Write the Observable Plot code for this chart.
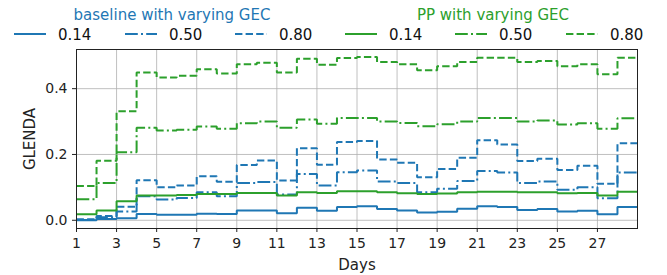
<!DOCTYPE html>
<html><head><meta charset="utf-8">
<script src="https://cdn.jsdelivr.net/npm/d3@7"></script>
<script src="https://cdn.jsdelivr.net/npm/@observablehq/plot@0.6"></script>
<style>
body{margin:0;background:#fff;font-family:"DejaVu Sans",sans-serif;}
#legend{display:block;width:667px;height:45px;}
#chart svg{display:block;}
</style></head><body>
<svg id="legend" width="667" height="45"></svg>
<div id="chart"></div>
<script>
const days = d3.range(1, 29);
const xTicks = d3.range(1, 28, 2);
const yTicks = [0, 0.2, 0.4];
const groupTitles = ["baseline with varying GEC", "PP with varying GEC"];
const gecLabels = ["0.14", "0.50", "0.80"];

const baseline014 = [0.000,0.004,0.006,0.019,0.017,0.017,0.020,0.019,0.030,0.030,0.021,0.038,0.029,0.040,0.043,0.034,0.030,0.024,0.026,0.035,0.043,0.040,0.031,0.034,0.027,0.029,0.018,0.040];
const baseline050 = [0.001,0.009,0.027,0.073,0.063,0.068,0.085,0.073,0.113,0.116,0.078,0.141,0.106,0.146,0.151,0.118,0.113,0.085,0.096,0.119,0.150,0.145,0.113,0.118,0.093,0.100,0.067,0.145];
const baseline080 = [0.003,0.013,0.041,0.122,0.100,0.106,0.134,0.117,0.168,0.182,0.121,0.219,0.169,0.238,0.241,0.185,0.175,0.131,0.156,0.190,0.243,0.230,0.180,0.187,0.153,0.166,0.111,0.234];
const pp014 = [0.018,0.030,0.058,0.075,0.075,0.077,0.080,0.080,0.083,0.083,0.075,0.085,0.083,0.088,0.088,0.085,0.082,0.080,0.081,0.085,0.087,0.087,0.085,0.085,0.082,0.083,0.075,0.087];
const pp050 = [0.064,0.113,0.207,0.281,0.273,0.275,0.285,0.278,0.295,0.300,0.281,0.306,0.293,0.311,0.311,0.300,0.296,0.286,0.292,0.300,0.311,0.311,0.300,0.303,0.291,0.295,0.278,0.310];
const pp080 = [0.104,0.181,0.331,0.449,0.434,0.439,0.459,0.446,0.474,0.479,0.449,0.491,0.473,0.493,0.496,0.481,0.474,0.456,0.468,0.481,0.494,0.494,0.481,0.484,0.468,0.474,0.444,0.494];

const BLUE = "#1f77b4", GREEN = "#2ca02c";
const DASHES = ["none", "12.8,3.2,2,3.2", "7.4,3.2"];
const series = [
  {values: baseline014, color: BLUE, dash: DASHES[0]},
  {values: baseline050, color: BLUE, dash: DASHES[1]},
  {values: baseline080, color: BLUE, dash: DASHES[2]},
  {values: pp014, color: GREEN, dash: DASHES[0]},
  {values: pp050, color: GREEN, dash: DASHES[1]},
  {values: pp080, color: GREEN, dash: DASHES[2]}
];
// step-post: each day's value holds until the next day; last one extends to day 29
const toPoints = vals => days.map((d, i) => ({day: d, v: vals[i]})).concat([{day: 29, v: vals[vals.length - 1]}]);

const marks = [
  Plot.gridX(xTicks, {stroke: "#b0b0b0", strokeOpacity: 1, strokeWidth: 0.8}),
  Plot.gridY(yTicks, {stroke: "#b0b0b0", strokeOpacity: 1, strokeWidth: 0.8}),
  ...series.map(s => Plot.line(toPoints(s.values), {
    x: "day", y: "v", curve: "step-after", stroke: s.color, strokeWidth: 2,
    strokeDasharray: s.dash, strokeLinejoin: "miter", strokeLinecap: "butt"
  })),
  Plot.frame({stroke: "#222", strokeWidth: 1}),
  Plot.axisX({ticks: xTicks, tickSize: 4, tickPadding: 6, fontSize: 14, label: "Days", labelAnchor: "center", labelArrow: "none", labelOffset: 41}),
  Plot.axisY({ticks: yTicks, tickSize: 4, tickPadding: 5, fontSize: 14, tickFormat: d3.format(".1f"), label: "GLENDA", labelAnchor: "center", labelArrow: "none", labelOffset: 52})
];

const chart = Plot.plot({
  width: 667, height: 230,
  marginTop: 4, marginBottom: 47, marginLeft: 76, marginRight: 30,
  style: {fontFamily: "DejaVu Sans", fontSize: "15px", color: "#222", background: "#fff"},
  x: {domain: [1, 29]},
  y: {domain: [-0.025, 0.519]},
  marks
});
document.getElementById("chart").append(chart);
chart.querySelectorAll('[aria-label="x-axis label"] text, [aria-label="y-axis label"] text').forEach(t => t.style.fontSize = "15px");

// legend
const lg = d3.select("#legend");
const titleX = [172, 493];
groupTitles.forEach((t, g) => {
  lg.append("text").attr("x", titleX[g]).attr("y", 20).attr("text-anchor", "middle")
    .attr("font-size", 15).attr("fill", g === 0 ? BLUE : GREEN).text(t);
});
const itemX = [14, 125, 235, 345, 455, 566];
series.forEach((s, i) => {
  const x0 = itemX[i];
  lg.append("line").attr("x1", x0).attr("x2", x0 + 32).attr("y1", 34).attr("y2", 34)
    .attr("stroke", s.color).attr("stroke-width", 2).attr("stroke-dasharray", s.dash);
  lg.append("text").attr("x", x0 + 44).attr("y", 39.5).attr("font-size", 15).attr("fill", "#111")
    .text(gecLabels[i % 3]);
});
</script>
</body></html>
